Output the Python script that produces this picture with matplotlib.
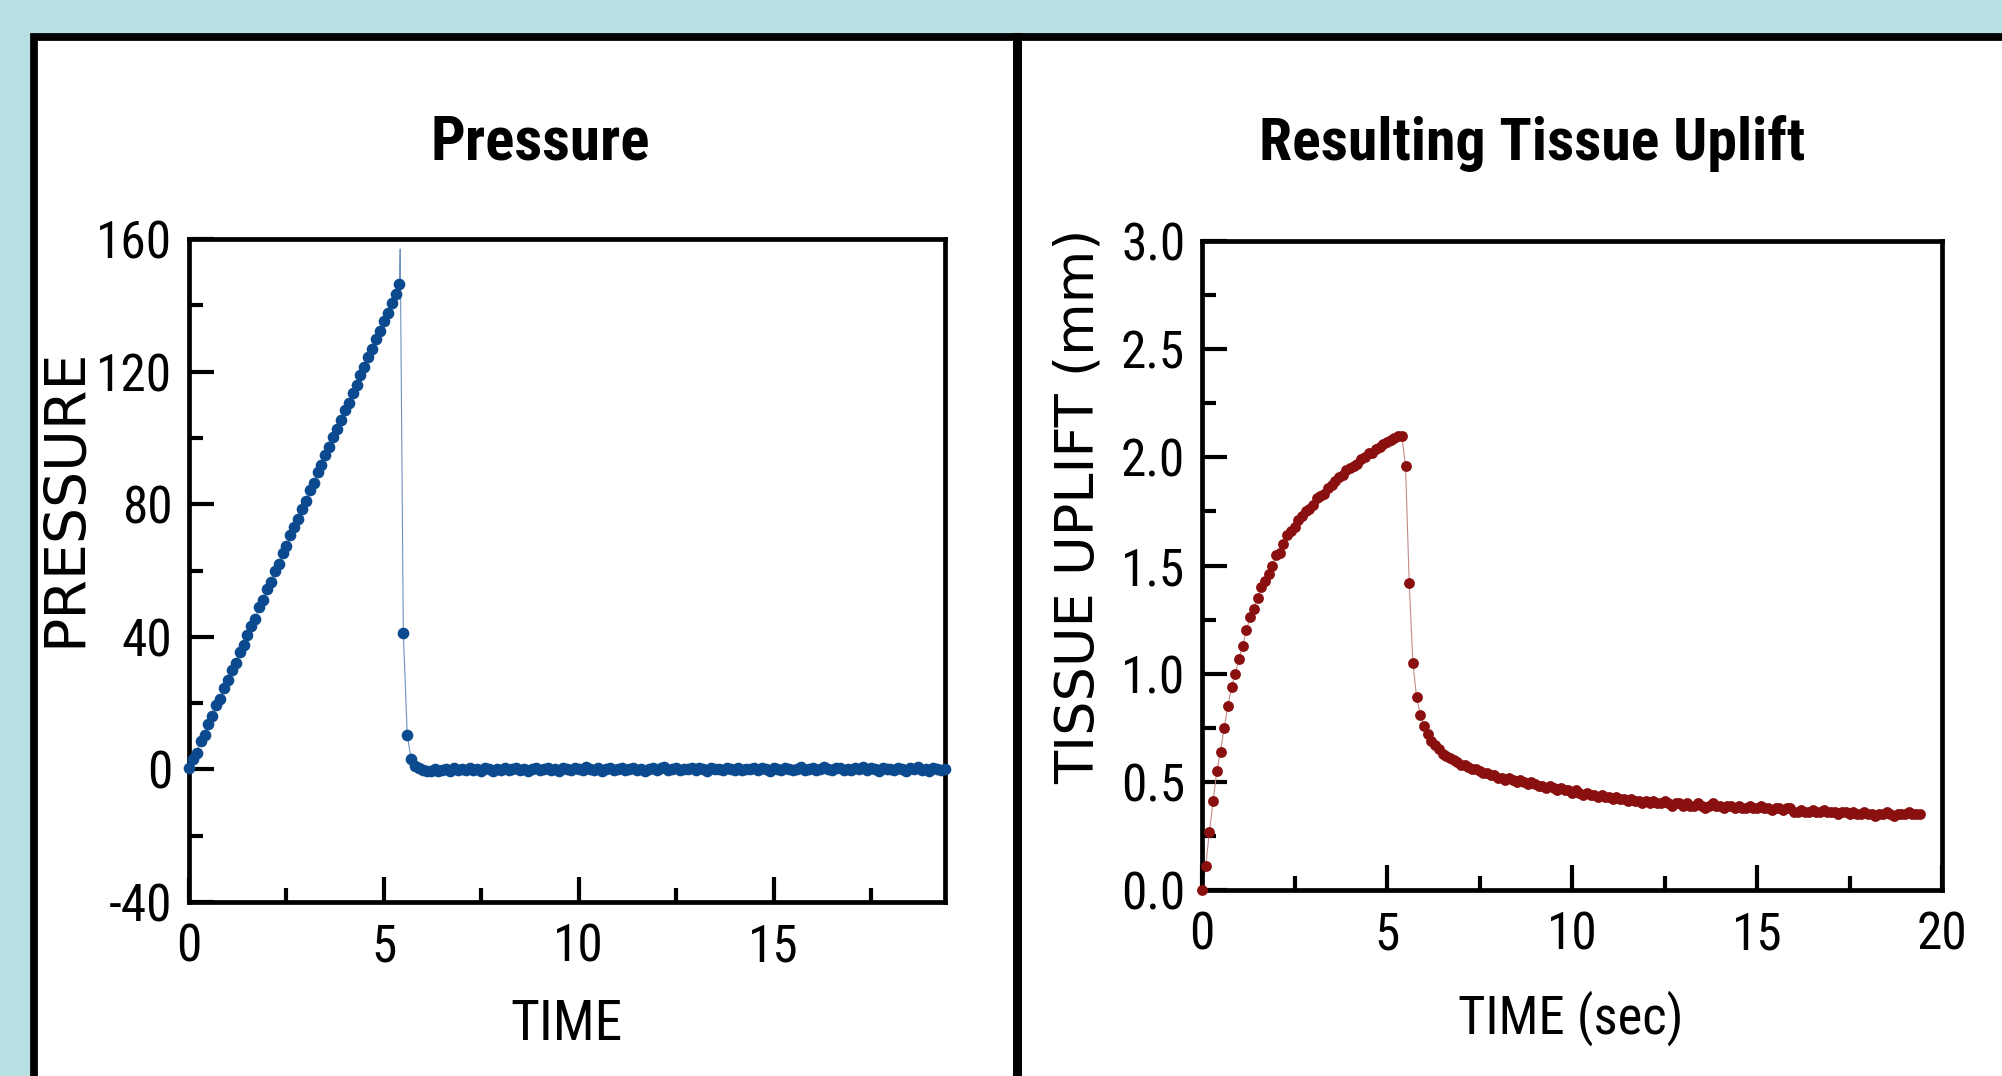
import matplotlib.pyplot as plt
import numpy as np
from matplotlib.patches import Rectangle
from matplotlib.lines import Line2D
from matplotlib.ticker import MultipleLocator

# sampling: one reading every 0.1 s from 0 to 19.4 s
SAMPLE_STEP = 0.1
N_SAMPLES = 195

pressure = [
    0.5, 3.2, 5.0, 8.6, 10.5, 13.8, 16.0, 19.4, 21.2, 24.5,
    27.0, 30.1, 32.0, 35.4, 37.6, 40.5, 43.4, 45.5, 48.9, 51.0,
    54.3, 56.5, 59.8, 62.0, 65.2, 67.4, 70.6, 73.1, 75.5, 78.7,
    81.0, 84.2, 86.3, 89.6, 91.8, 94.9, 97.4, 100.2, 102.6, 105.4,
    108.4, 110.5, 113.6, 115.9, 119.0, 121.3, 124.5, 126.8, 129.8, 132.3,
    135.2, 137.6, 140.7, 143.3, 146.4,
    41.0, 10.5, 3.0, 1.0, 0.3,
    -0.3, -0.6, -0.4, 0.2, -0.5, -0.2, 0.1, -0.4, 0.3, -0.1,
    0.2, -0.3, 0.4, -0.2, 0.1, -0.5, 0.3, 0.0, -0.4, 0.2,
    -0.1, 0.3, -0.3, 0.1, 0.5, -0.2, 0.0, -0.4, 0.2, 0.3,
    -0.3, 0.1, 0.4, -0.1, 0.2, -0.4, 0.3, 0.1, -0.2, 0.5,
    0.0, -0.3, 0.6, 0.2, -0.1, 0.3, -0.4, 0.1, 0.4, -0.2,
    0.2, 0.5, -0.3, 0.0, 0.3, -0.2, 0.1, -0.5, 0.2, 0.4,
    -0.1, 0.3, 0.6, -0.2, 0.1, 0.4, -0.3, 0.2, 0.0, 0.5,
    -0.2, 0.3, 0.1, -0.4, 0.4, 0.0, 0.2, -0.3, 0.5, 0.1,
    -0.1, 0.4, -0.3, 0.2, 0.0, 0.3, -0.2, 0.5, 0.1, -0.4,
    0.3, 0.0, -0.2, 0.4, 0.1, -0.3, 0.2, 0.6, -0.1, 0.2,
    0.4, -0.2, 0.1, 0.7, 0.0, -0.3, 0.3, 0.5, -0.1, 0.2,
    -0.3, 0.4, 0.1, 0.6, -0.2, 0.3, 0.0, -0.4, 0.5, 0.2,
    0.1, -0.3, 0.4, 0.2, -0.5, 0.3, 0.0, 0.6, -0.2, 0.1,
    -0.4, 0.3, 0.0, -0.2, 0.2,
]
# the fitted trace overshoots between the last ramp sample and the drop
pressure_peak_t = 5.42
pressure_peak = 157.0

uplift_mm = [
    0.00, 0.11, 0.27, 0.41, 0.55, 0.64, 0.75, 0.85, 0.94, 1.00,
    1.07, 1.13, 1.20, 1.26, 1.30, 1.35, 1.40, 1.43, 1.46, 1.50,
    1.55, 1.56, 1.60, 1.64, 1.66, 1.68, 1.71, 1.73, 1.75, 1.76,
    1.78, 1.81, 1.82, 1.83, 1.86, 1.87, 1.89, 1.91, 1.92, 1.94,
    1.95, 1.96, 1.97, 1.99, 2.00, 2.02, 2.02, 2.04, 2.05, 2.06,
    2.07, 2.08, 2.09, 2.10, 2.10,
    1.96, 1.42, 1.05, 0.89, 0.81,
    0.76, 0.72, 0.69, 0.67, 0.65, 0.63, 0.62, 0.61, 0.60, 0.59,
    0.58, 0.58, 0.57, 0.56, 0.56, 0.55, 0.54, 0.54, 0.53, 0.53,
    0.52, 0.52, 0.51, 0.52, 0.51, 0.50, 0.51, 0.50, 0.49, 0.50,
    0.49, 0.48, 0.48, 0.47, 0.48, 0.47, 0.46, 0.47, 0.46, 0.46,
    0.45, 0.46, 0.45, 0.44, 0.45, 0.44, 0.44, 0.43, 0.44, 0.43,
    0.43, 0.42, 0.43, 0.42, 0.42, 0.41, 0.42, 0.41, 0.41, 0.40,
    0.41, 0.40, 0.41, 0.40, 0.40, 0.41, 0.40, 0.39, 0.40, 0.40,
    0.39, 0.40, 0.39, 0.39, 0.40, 0.39, 0.38, 0.39, 0.40, 0.39,
    0.39, 0.38, 0.39, 0.39, 0.38, 0.39, 0.38, 0.38, 0.39, 0.38,
    0.38, 0.39, 0.38, 0.38, 0.37, 0.38, 0.38, 0.37, 0.38, 0.38,
    0.36, 0.36, 0.37, 0.36, 0.36, 0.37, 0.36, 0.36, 0.37, 0.36,
    0.36, 0.36, 0.35, 0.36, 0.36, 0.35, 0.36, 0.35, 0.35, 0.36,
    0.35, 0.35, 0.34, 0.35, 0.35, 0.36, 0.35, 0.34, 0.35, 0.35,
    0.35, 0.36, 0.35, 0.35, 0.35,
]

time_s = np.round(np.arange(N_SAMPLES) * SAMPLE_STEP, 1)
pressure = np.array(pressure)
uplift_mm = np.array(uplift_mm)

# trace for the thin connecting line (samples + overshoot)
ramp_end = int(np.argmax(pressure)) + 1
line_t = np.concatenate([time_s[:ramp_end], [pressure_peak_t], time_s[ramp_end:]])
line_p = np.concatenate([pressure[:ramp_end], [pressure_peak], pressure[ramp_end:]])

W, H = 2002, 1076
BG = '#b8dfe2'
BLUE = '#0c4a8f'
RED = '#8a1010'
NARROW = ['Roboto Condensed', 'Liberation Sans', 'DejaVu Sans']
WIDE = ['DejaVu Sans']

plt.rcParams['axes.unicode_minus'] = False

fig = plt.figure(figsize=(W / 100, H / 100), dpi=100, facecolor=BG)


def px(x, y):
    return x / W, 1 - y / H


def box(x0, y0, x1, y1):
    return [x0 / W, 1 - y1 / H, (x1 - x0) / W, (y1 - y0) / H]


# white panels with black frame and divider
fig.add_artist(Rectangle(px(33.5, 1200), (2100 - 33.5) / W, (1200 - 37) / H,
                         transform=fig.transFigure, facecolor='white',
                         edgecolor='black', linewidth=5.6, zorder=0))
fig.add_artist(Line2D([1017.5 / W] * 2, [0, 1 - 37 / H], transform=fig.transFigure,
                      color='black', linewidth=6.5, zorder=1))

ax1 = fig.add_axes(box(189, 239, 945, 902))
ax2 = fig.add_axes(box(1202, 241, 1942, 890))

ax1.plot(line_t, line_p, color='#6f93bd', linewidth=0.8, zorder=2)
ax1.plot(time_s, pressure, 'o', color=BLUE, markersize=8.4, markeredgewidth=0,
         clip_on=False, zorder=3)
ax1.set_xlim(0, 19.4)
ax1.set_ylim(-40, 160)
ax1.xaxis.set_major_locator(MultipleLocator(5))
ax1.xaxis.set_minor_locator(MultipleLocator(2.5))
ax1.yaxis.set_major_locator(MultipleLocator(40))
ax1.yaxis.set_minor_locator(MultipleLocator(20))

ax2.plot(time_s, uplift_mm, color='#c48a8a', linewidth=0.8, zorder=2)
ax2.plot(time_s, uplift_mm, 'o', color=RED, markersize=7.8, markeredgewidth=0,
         clip_on=False, zorder=3)
ax2.set_xlim(0, 20)
ax2.set_ylim(0, 3)
ax2.xaxis.set_major_locator(MultipleLocator(5))
ax2.xaxis.set_minor_locator(MultipleLocator(2.5))
ax2.yaxis.set_major_locator(MultipleLocator(0.5))
ax2.yaxis.set_minor_locator(MultipleLocator(0.25))
ax2.yaxis.set_major_formatter(plt.FormatStrFormatter('%.1f'))

for ax in (ax1, ax2):
    for sp in ax.spines.values():
        sp.set_linewidth(3.4)
    ax.tick_params(which='both', direction='in', top=False, right=False,
                   width=3.0, colors='black')
    ax.tick_params(which='major', length=18)
    ax.tick_params(which='minor', length=10)
    ax.tick_params(axis='x', which='major', pad=15)
    ax.tick_params(axis='y', which='major', pad=12)
    for lab in ax.get_xticklabels() + ax.get_yticklabels():
        lab.set_family(NARROW)
        lab.set_fontsize(37)

# titles and axis labels
fig.text(*px(540, 143), 'Pressure', ha='center', va='center',
         family=NARROW, fontweight='bold', fontsize=44)
fig.text(*px(1532, 143), 'Resulting Tissue Uplift', ha='center', va='center',
         family=NARROW, fontweight='bold', fontsize=43)
fig.text(*px(566, 1025), 'TIME', ha='center', va='center', family=NARROW, fontsize=40)
fig.text(*px(1571, 1018), 'TIME (sec)', ha='center', va='center', family=NARROW, fontsize=38)
fig.text(*px(66, 497), 'PRESSURE', ha='center', va='center', rotation=90,
         family=WIDE, fontsize=41)
fig.text(*px(1079, 506), 'TISSUE UPLIFT (mm)', ha='center', va='center', rotation=90,
         family=WIDE, fontsize=39)

fig.savefig('out.png', dpi=100, facecolor=BG)
